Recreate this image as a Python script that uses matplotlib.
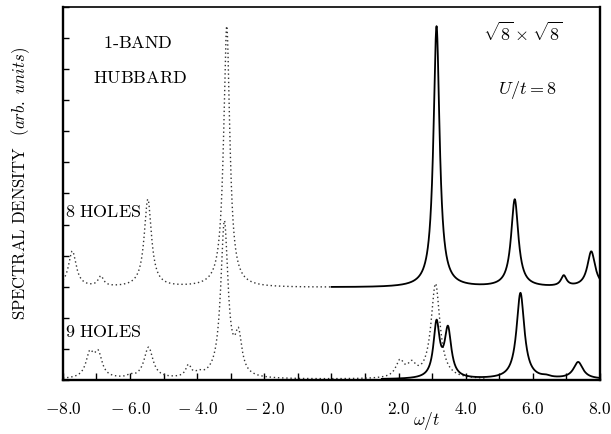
import numpy as np
import matplotlib
matplotlib.use("Agg")
import matplotlib.pyplot as plt
from matplotlib.ticker import MultipleLocator

plt.rcParams["mathtext.fontset"] = "cm"
plt.rcParams["font.family"] = "serif"

# --- peaks (position omega/t, height, half width) ---
# 8 holes: one spectrum, dotted for omega < 0, solid for omega > 0
h8_pos = [-7.72, -6.87, -5.47, -3.12, 3.13, 5.46, 6.92, 7.74]
h8_amp = [1.16, 0.32, 2.82, 8.40, 8.40, 2.82, 0.34, 1.15]
h8_wid = [0.14, 0.10, 0.13, 0.11, 0.11, 0.13, 0.10, 0.14]
h8_offset = 2.97

# 9 holes, dotted spectrum
h9d_pos = [-7.20, -6.95, -6.00, -5.45, -4.26, -3.95, -3.19, -2.77, 2.04, 2.39, 3.10]
h9d_amp = [0.75, 0.75, 0.07, 1.00, 0.37, 0.11, 5.00, 1.22, 0.52, 0.38, 3.05]
h9d_wid = [0.14, 0.14, 0.10, 0.16, 0.10, 0.12, 0.13, 0.12, 0.15, 0.15, 0.16]

# 9 holes, solid spectrum
h9s_pos = [3.13, 3.47, 5.63, 6.40, 7.35]
h9s_amp = [1.74, 1.55, 2.77, 0.05, 0.54]
h9s_wid = [0.11, 0.12, 0.14, 0.15, 0.17]
h9_offset = 0.02

xticks = [-8, -6, -4, -2, 0, 2, 4, 6, 8]
xticklabels = [r"$-8.0$", r"$-\;6.0$", r"$-\;4.0$", r"$-\;2.0$", r"$0.0$",
               r"$2.0$", r"$4.0$", r"$6.0$", r"$8.0$"]


def spectrum(w, pos, amp, wid):
    out = np.zeros_like(w)
    for p, a, g in zip(pos, amp, wid):
        out += a * g**2 / ((w - p)**2 + g**2)
    return out


w = np.linspace(-8, 8, 3201)
s8 = spectrum(w, h8_pos, h8_amp, h8_wid) + h8_offset
s9d = spectrum(w, h9d_pos, h9d_amp, h9d_wid) + h9_offset
s9s = spectrum(w, h9s_pos, h9s_amp, h9s_wid) + h9_offset

fig = plt.figure(figsize=(6.11, 4.34), dpi=100)
ax = fig.add_axes([0.103, 0.1244, 0.879, 0.8595])

dot = dict(color="0.2", lw=1.0, linestyle=(0, (1, 2)))
solid = dict(color="black", lw=1.3)

neg = w <= 0
ax.plot(w[neg], s8[neg], **dot)
ax.plot(w[~neg], s8[~neg], **solid)
m9d = w <= 4.6
ax.plot(w[m9d], s9d[m9d], **dot)
m9s = w >= 1.5
ax.plot(w[m9s], s9s[m9s], **solid)

ax.set_xlim(-8, 8)
ax.set_ylim(0, 12)
ax.set_xticks(xticks)
ax.set_xticklabels(xticklabels, fontsize=12.5)
ax.xaxis.set_minor_locator(MultipleLocator(1))
ax.yaxis.set_major_locator(MultipleLocator(1))
ax.set_yticklabels([])
ax.tick_params(which="both", direction="in", top=False, right=False)
ax.tick_params(axis="x", which="both", length=5, width=1.0, pad=15)
ax.tick_params(axis="y", length=4, width=1.0)
for side in ["left", "bottom", "right"]:
    ax.spines[side].set_linewidth(1.7)
ax.spines["top"].set_linewidth(1.2)

tk = dict(fontsize=13, ha="center", va="center")
ax.text(-5.77, 10.84, r"$\mathrm{1\text{-}BAND}$", **tk)
ax.text(-5.70, 9.71, r"$\mathrm{HUBBARD}$", **tk)
ax.text(5.70, 11.16, r"$\sqrt{8}\times\sqrt{8}$", **tk)
ax.text(5.84, 9.32, r"$U/t=8$", **tk)
ax.text(-7.93, 5.40, r"$\mathrm{8\ HOLES}$", fontsize=13, ha="left", va="center")
ax.text(-7.93, 1.55, r"$\mathrm{9\ HOLES}$", fontsize=13, ha="left", va="center")

fig.text(427 / 611, 1 - 421 / 434, r"$\omega/t$", fontsize=12.5, ha="center", va="center")
fig.text(21 / 611, 1 - 184 / 434,
         r"$\mathrm{SPECTRAL\ DENSITY}\;\;\;(arb.\ units)$",
         fontsize=12, rotation=90, ha="center", va="center")

fig.savefig("out.png", dpi=100)
